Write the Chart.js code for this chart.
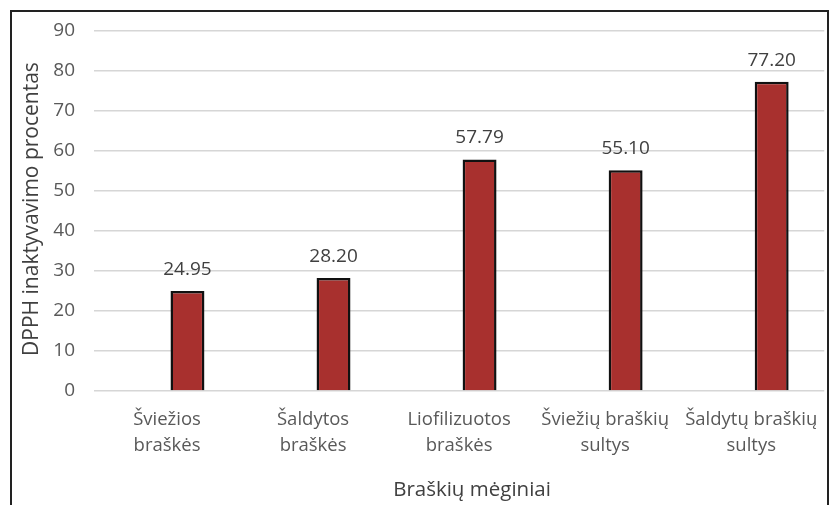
<!DOCTYPE html>
<html>
<head>
<meta charset="utf-8">
<script src="https://cdn.jsdelivr.net/npm/chart.js@4/dist/chart.umd.min.js"></script>
<style>
  body { margin: 0; background: #fff; }
  #wrap { width: 834px; height: 505px; }
</style>
</head>
<body>
<div id="wrap"><canvas id="barchart" width="834" height="505"></canvas></div>
<script>
// Sample names (two lines each) and DPPH inactivation values
var samples = [["Šviežios", "braškės"], ["Šaldytos", "braškės"], ["Liofilizuotos", "braškės"], ["Šviežių braškių", "sultys"], ["Šaldytų braškių", "sultys"]];
var dpphValues = [24.95, 28.20, 57.79, 55.10, 77.20];
var emptySeries = [null, null, null, null, null];
var yTicks = [0, 10, 20, 30, 40, 50, 60, 70, 80, 90];
var xTitle = 'Braškių mėginiai';
var yTitle = 'DPPH inaktyvavimo procentas';

var font = "'Open Sans', 'DejaVu Sans', sans-serif";

// outer frame and both axis captions
var framePlugin = {
  id: 'frame',
  afterDraw: function(chart) {
    var ctx = chart.ctx;
    ctx.save();
    ctx.strokeStyle = '#222';
    ctx.lineWidth = 2;
    ctx.strokeRect(11, 11, 817, 520);
    ctx.fillStyle = '#404040';
    ctx.textAlign = 'center';
    ctx.font = '20.5px ' + font;
    ctx.textBaseline = 'middle';
    ctx.fillText(xTitle, 472, 490);
    ctx.font = '21px ' + font;
    ctx.textBaseline = 'alphabetic';
    ctx.translate(38, 209);
    ctx.rotate(-Math.PI / 2);
    ctx.fillText(yTitle, 0, 0);
    ctx.restore();
  }
};

// value labels above the bars
var valueLabels = {
  id: 'valueLabels',
  afterDatasetsDraw: function(chart) {
    var ctx = chart.ctx;
    var meta = chart.getDatasetMeta(1);
    ctx.save();
    ctx.fillStyle = '#404040';
    ctx.font = '19px ' + font;
    ctx.textAlign = 'center';
    ctx.textBaseline = 'alphabetic';
    meta.data.forEach(function(bar, i) {
      ctx.fillText(dpphValues[i].toFixed(2), bar.x, bar.y - 16);
    });
    ctx.restore();
  }
};

var context = document.getElementById("barchart");
var barchart = new Chart(context, {
  type: 'bar',
  data: {
    labels: samples,
    datasets: [
      {
        label: "",
        data: emptySeries
      },
      {
        label: yTitle,
        backgroundColor: "#A8302E",
        borderColor: "#111",
        borderWidth: 2.5,
        data: dpphValues
      }
    ]
  },
  options: {
    responsive: false,
    animation: false,
    layout: { padding: { top: 30, right: 7, left: 0, bottom: 0 } },
    categoryPercentage: 0.56,
    barPercentage: 0.83,
    plugins: {
      legend: { display: false },
      tooltip: { enabled: false }
    },
    scales: {
      x: {
        grid: { display: false, drawTicks: false },
        border: { display: false },
        ticks: { color: '#595959', font: { family: font, size: 18.5, lineHeight: 1.4 }, padding: 16, maxRotation: 0 },
        afterFit: function(s) { s.height = 114; }
      },
      y: {
        min: 0,
        max: 90,
        afterBuildTicks: function(s) { s.ticks = yTicks.map(function(v) { return { value: v }; }); },
        grid: { color: '#d6d6d6', lineWidth: 1.5, drawTicks: false },
        border: { display: false },
        ticks: { color: '#595959', font: { family: font, size: 19 }, padding: 19 },
        afterFit: function(s) { s.width = 94; }
      }
    }
  },
  plugins: [framePlugin, valueLabels]
});
</script>
</body>
</html>
